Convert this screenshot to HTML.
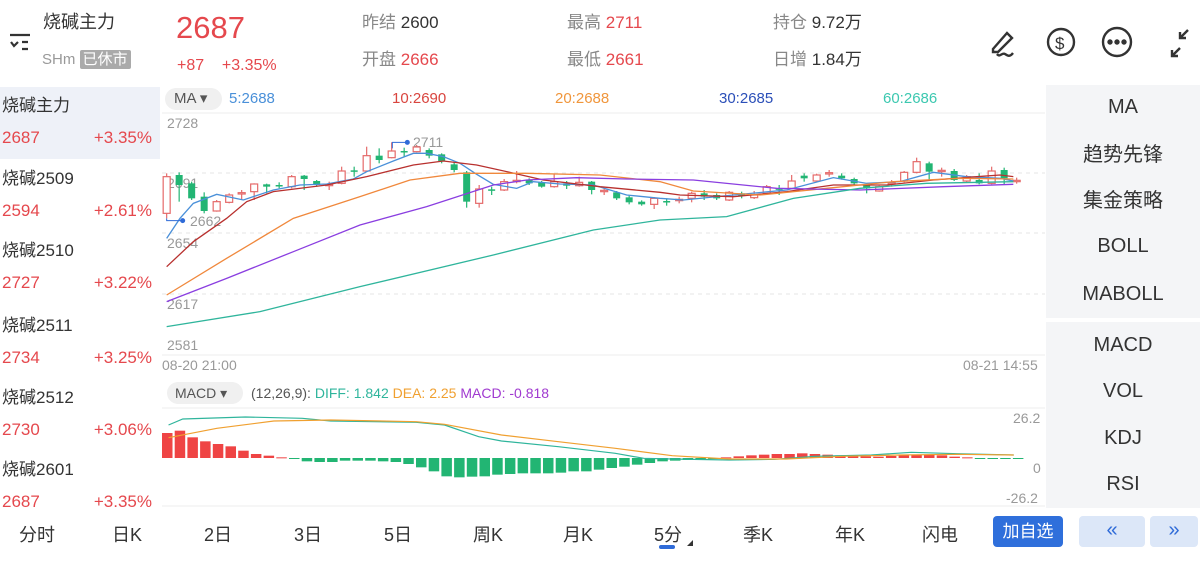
<!DOCTYPE html>
<html><head><meta charset="utf-8"><style>
body{margin:0;width:1200px;height:569px;background:#fff;position:relative;overflow:hidden;font-family:"Liberation Sans","Noto Sans CJK SC",sans-serif;}
.a{position:absolute;white-space:nowrap;line-height:1;}
.r{color:#e5484d}.g{color:#777}.k{color:#333}.b{color:#2f6bd8}
.li{position:absolute;left:0;width:160px;height:72px;}
.li .n{position:absolute;left:2px;top:4px;font-size:17px;color:#333}
.li .v{position:absolute;left:2px;top:41px;font-size:17px;color:#e5484d}
.li .p{position:absolute;right:8px;top:41px;font-size:17px;color:#e5484d}
.rp{position:absolute;left:1046px;width:154px;background:#f4f5f7}
.ri{position:absolute;width:154px;text-align:center;font-size:20px;color:#333}
.tb{position:absolute;top:521px;font-size:18px;color:#333;transform:translateX(-50%)}
</style></head><body>
<svg class="a" style="left:8px;top:32px" width="26" height="22"><path d="M2 3h20M14 10h6M14 17h6M3 10l3 4 4-4" stroke="#333" stroke-width="2.2" fill="none"/></svg>
<div class="a k" style="left:43px;top:13px;font-size:18px">烧碱主力</div>
<div class="a g" style="left:42px;top:52px;font-size:15px;color:#999">SHm <span style="background:#aaa;color:#fff;padding:1px 3px;border-radius:2px">已休市</span></div>
<div class="a r" style="left:176px;top:12px;font-size:31px">2687</div>
<div class="a r" style="left:177px;top:58px;font-size:16px">+87&nbsp;&nbsp;&nbsp;&nbsp;+3.35%</div>
<div class="a" style="left:362px;top:14px;font-size:17px;color:#888">昨结 <span class="k">2600</span></div>
<div class="a" style="left:362px;top:51px;font-size:17px;color:#888">开盘 <span class="r">2666</span></div>
<div class="a" style="left:567px;top:14px;font-size:17px;color:#888">最高 <span class="r">2711</span></div>
<div class="a" style="left:567px;top:51px;font-size:17px;color:#888">最低 <span class="r">2661</span></div>
<div class="a" style="left:773px;top:14px;font-size:17px;color:#888">持仓 <span class="k">9.72万</span></div>
<div class="a" style="left:773px;top:51px;font-size:17px;color:#888">日增 <span class="k">1.84万</span></div>
<svg class="a" style="left:985px;top:22px" width="215" height="40" fill="none" stroke="#333" stroke-width="2.4">
<path d="M8 27l14-16 5 5-14 14H8zM12 32c3 4 5-2 8 0s5 3 8-1"/>
<circle cx="76" cy="20" r="13"/><text x="70" y="27" font-size="17" fill="#333" stroke="none" font-family="Liberation Sans">$</text>
<circle cx="132" cy="20" r="14"/><circle cx="125" cy="20" r="1.5" fill="#333"/><circle cx="132" cy="20" r="1.5" fill="#333"/><circle cx="139" cy="20" r="1.5" fill="#333"/>
<path d="M187 34l8-8M187 28v6h6M203 8l-8 8M195 10v6h6"/>
</svg>
<div class="li" style="top:87px;background:#eef1f8"><div class="n">烧碱主力</div><div class="v">2687</div><div class="p">+3.35%</div></div>
<div class="li" style="top:160px"><div class="n">烧碱2509</div><div class="v">2594</div><div class="p">+2.61%</div></div>
<div class="li" style="top:232px"><div class="n">烧碱2510</div><div class="v">2727</div><div class="p">+3.22%</div></div>
<div class="li" style="top:307px"><div class="n">烧碱2511</div><div class="v">2734</div><div class="p">+3.25%</div></div>
<div class="li" style="top:379px"><div class="n">烧碱2512</div><div class="v">2730</div><div class="p">+3.06%</div></div>
<div class="li" style="top:451px"><div class="n">烧碱2601</div><div class="v">2687</div><div class="p">+3.35%</div></div>
<div class="rp" style="top:85px;height:233px"></div>
<div class="rp" style="top:322px;height:186px"></div>
<div class="ri b" style="left:1046px;top:96px">MA</div>
<div class="ri" style="left:1046px;top:138px">趋势先锋</div>
<div class="ri" style="left:1046px;top:184px">集金策略</div>
<div class="ri" style="left:1046px;top:235px">BOLL</div>
<div class="ri" style="left:1046px;top:283px">MABOLL</div>
<div class="ri b" style="left:1046px;top:334px">MACD</div>
<div class="ri" style="left:1046px;top:380px">VOL</div>
<div class="ri" style="left:1046px;top:427px">KDJ</div>
<div class="ri" style="left:1046px;top:473px">RSI</div>
<div class="a" style="left:165px;top:88px;width:57px;height:22px;border-radius:11px;background:#f0f0f0"></div>
<div class="a" style="left:174px;top:91px;font-size:15px;color:#555">MA ▾</div>
<div class="a" style="left:229px;top:91px;font-size:15px;color:#4a90d9">5:2688</div>
<div class="a" style="left:392px;top:91px;font-size:15px;color:#d9453f">10:2690</div>
<div class="a" style="left:555px;top:91px;font-size:15px;color:#f0963c">20:2688</div>
<div class="a" style="left:719px;top:91px;font-size:15px;color:#2b4fb8">30:2685</div>
<div class="a" style="left:883px;top:91px;font-size:15px;color:#3cc8b0">60:2686</div>
<div class="a" style="left:167px;top:116px;font-size:14px;color:#999">2728</div>
<div class="a" style="left:167px;top:176px;font-size:14px;color:#999">2691</div>
<div class="a" style="left:167px;top:236px;font-size:14px;color:#999">2654</div>
<div class="a" style="left:167px;top:297px;font-size:14px;color:#999">2617</div>
<div class="a" style="left:167px;top:338px;font-size:14px;color:#999">2581</div>
<div class="a" style="left:413px;top:135px;font-size:14px;color:#999">2711</div>
<div class="a" style="left:190px;top:214px;font-size:14px;color:#999">2662</div>
<div class="a" style="left:162px;top:358px;font-size:14px;color:#999">08-20 21:00</div>
<div class="a" style="left:963px;top:358px;font-size:14px;color:#999">08-21 14:55</div>
<div class="a" style="left:167px;top:382px;width:76px;height:22px;border-radius:11px;background:#f0f0f0"></div>
<div class="a" style="left:175px;top:386px;font-size:14px;color:#555">MACD ▾</div>
<div class="a" style="left:251px;top:386px;font-size:14px;color:#555">(12,26,9): <span style="color:#2fb59c">DIFF: 1.842</span> <span style="color:#f0a030">DEA: 2.25</span> <span style="color:#a03ad0">MACD: -0.818</span></div>
<div class="a" style="left:1013px;top:411px;font-size:14px;color:#999">26.2</div>
<div class="a" style="left:1033px;top:461px;font-size:14px;color:#999">0</div>
<div class="a" style="left:1006px;top:491px;font-size:14px;color:#999">-26.2</div>
<svg id="ch" class="a" style="left:0;top:0" width="1200" height="569"></svg>
<div class="tb" style="left:37px">分时</div><div class="tb" style="left:127px">日K</div><div class="tb" style="left:218px">2日</div><div class="tb" style="left:308px">3日</div><div class="tb" style="left:398px">5日</div><div class="tb" style="left:488px">周K</div><div class="tb" style="left:578px">月K</div><div class="tb b" style="left:668px">5分</div><div class="tb" style="left:758px">季K</div><div class="tb" style="left:850px">年K</div><div class="tb" style="left:940px">闪电</div>
<div class="a" style="left:659px;top:545px;width:16px;height:4px;border-radius:2px;background:#2f6bd8"></div>
<div class="a" style="left:687px;top:540px;width:0;height:0;border-left:6px solid transparent;border-bottom:6px solid #333"></div>
<div class="a" style="left:993px;top:516px;width:70px;height:31px;border-radius:4px;background:#2f6fdb;color:#fff;font-size:17px;text-align:center;line-height:31px">加自选</div>
<div class="a" style="left:1079px;top:516px;width:66px;height:31px;border-radius:4px;background:#dce7f8;color:#2f6bd8;font-size:20px;text-align:center;line-height:29px">«</div>
<div class="a" style="left:1150px;top:516px;width:48px;height:31px;border-radius:4px;background:#dce7f8;color:#2f6bd8;font-size:20px;text-align:center;line-height:29px">»</div>
<script>
const S=document.getElementById('ch');let h='';
h+='<line x1="162" y1="113" x2="1045" y2="113" stroke="#eee"/>';
[173,233,294].forEach(y=>h+=`<line x1="162" y1="${y}" x2="1045" y2="${y}" stroke="#e6e6e6" stroke-dasharray="4 4"/>`);
h+='<line x1="162" y1="355" x2="1045" y2="355" stroke="#eee"/><line x1="162" y1="408" x2="1045" y2="408" stroke="#eee"/><line x1="162" y1="506" x2="1045" y2="506" stroke="#eee"/>';
const X=z=>160+z/3,Y=z=>85+z/3;
const C=[[275,385,265,400,'r'],[270,300,262,350,'g'],[295,340,290,345,'g'],[335,378,322,385,'g'],[350,378,345,380,'r'],[330,352,325,355,'r'],[323,327,315,345,'r'],[297,320,295,345,'r'],[298,305,296,325,'g'],[300,304,292,310,'g'],[275,305,270,310,'r'],[272,282,270,315,'g'],[288,300,285,305,'g'],[298,302,290,315,'r'],[258,295,245,298,'r'],[256,260,245,275,'g'],[212,258,185,260,'r'],[212,225,190,235,'g'],[198,218,172,220,'r'],[198,202,188,215,'g'],[186,200,180,202,'r'],[195,212,190,220,'g'],[208,228,205,235,'g'],[238,255,232,262,'g'],[262,350,258,368,'g'],[312,355,300,368,'r'],[313,317,305,330,'g'],[290,315,282,318,'r'],[286,290,258,295,'r'],[285,295,280,300,'g'],[292,305,288,308,'g'],[290,305,268,308,'r'],[295,302,288,312,'g'],[292,302,275,305,'r'],[290,315,288,328,'g'],[316,320,310,330,'r'],[322,340,318,345,'g'],[337,352,332,358,'g'],[350,358,346,362,'g'],[340,358,336,372,'r'],[348,352,340,362,'g'],[343,347,335,355,'r'],[325,340,320,352,'r'],[325,335,315,345,'g'],[330,340,325,345,'g'],[322,345,318,348,'r'],[325,333,320,340,'g'],[330,338,318,342,'r'],[305,325,300,328,'r'],[310,314,300,330,'g'],[288,310,270,312,'r'],[272,280,265,290,'g'],[270,288,266,290,'r'],[263,267,255,275,'r'],[272,280,265,284,'g'],[282,295,278,302,'g'],[300,310,296,325,'g'],[305,318,302,320,'r'],[293,297,285,305,'r'],[262,288,258,292,'r'],[230,262,218,265,'r'],[235,260,230,285,'g'],[256,260,248,275,'r'],[258,285,252,288,'g'],[275,288,270,292,'r'],[285,295,265,298,'g'],[258,295,245,298,'r'],[255,280,248,300,'g'],[286,290,278,296,'r']];
C.forEach((c,i)=>{const x=X(20+37.5*i),col=c[4]=='r'?'#e56a6a':'#22b573';
h+=`<line x1="${x}" y1="${Y(c[2])}" x2="${x}" y2="${Y(c[3])}" stroke="${col}" stroke-width="1.2"/>`;
const t=Y(c[0]),b=Y(c[1]);
if(c[4]=='r')h+=`<rect x="${x-3.5}" y="${t}" width="7" height="${Math.max(b-t,1)}" fill="#fff" stroke="${col}" stroke-width="1.2"/>`;
else h+=`<rect x="${x-3.5}" y="${t}" width="7" height="${Math.max(b-t,1.5)}" fill="${col}"/>`;});
const L=(pts,col)=>{h+=`<polyline fill="none" stroke="${col}" stroke-width="1.3" points="${pts.map(p=>X(p[0])+','+Y(p[1])).join(' ')}"/>`};
L([[20,460],[60,400],[100,355],[170,328],[250,345],[340,315],[420,300],[500,297],[580,282],[620,260],[700,228],[760,205],[800,205],[850,215],[900,235],[950,268],[1000,298],[1070,310],[1120,290],[1200,297],[1300,300],[1400,330],[1500,340],[1570,345],[1720,330],[1880,315],[2020,278],[2120,295],[2220,290],[2320,262],[2420,275],[2520,280],[2560,288]],'#4a90d9');
L([[20,545],[100,470],[200,400],[260,350],[340,320],[500,300],[620,275],[760,240],[850,228],[950,240],[1050,262],[1150,285],[1320,305],[1500,322],[1560,330],[1720,335],[1880,320],[2020,300],[2180,300],[2320,285],[2450,275],[2520,270],[2560,275]],'#b8302e');
L([[20,630],[200,520],[400,400],[600,335],[750,285],[900,265],[1100,265],[1320,270],[1500,290],[1600,318],[1800,330],[2000,310],[2200,290],[2400,280],[2560,282]],'#f0883c');
L([[20,650],[200,580],[400,500],[600,420],[800,365],[1000,300],[1100,285],[1250,278],[1400,282],[1600,285],[1850,310],[2100,315],[2350,305],[2560,298]],'#8a3ee0');
L([[20,725],[300,680],[600,605],[1000,510],[1300,435],[1500,405],[1700,395],[1900,340],[2100,310],[2300,295],[2560,290]],'#2fb59c');
h+=`<polyline fill="none" stroke="#2f6bd8" stroke-width="1" points="${X(20)},${Y(400)} ${X(20)},${Y(407)} ${X(68)},${Y(407)}"/><circle cx="${X(68)}" cy="${Y(407)}" r="2.5" fill="#2f6bd8"/>`;
h+=`<polyline fill="none" stroke="#2f6bd8" stroke-width="1" points="${X(697)},${Y(190)} ${X(697)},${Y(172)} ${X(742)},${Y(172)}"/><circle cx="${X(742)}" cy="${Y(172)}" r="2.5" fill="#2f6bd8"/>`;
const V=[75,82,62,50,42,35,22,12,7,2,-1,-10,-12,-12,-8,-8,-8,-10,-12,-18,-28,-40,-55,-58,-56,-55,-50,-48,-46,-46,-46,-44,-40,-40,-35,-30,-26,-20,-15,-10,-8,-6,-4,-2,2,5,8,10,12,12,14,12,10,8,6,5,4,6,8,10,10,8,4,2,-2,-3,-1,-3];
const z0=458;
V.forEach((v,i)=>{const x=162+i*12.7,hh=Math.abs(v)/3;
h+=`<rect x="${x}" y="${v>0?z0-hh:z0}" width="10.5" height="${Math.max(hh,1)}" fill="${v>0?'#ef4444':'#22b573'}"/>`;});
const MX=z=>160+z/1.757,MY=z=>375+z/3;
const M=(pts,col)=>{h+=`<polyline fill="none" stroke="${col}" stroke-width="1.2" points="${pts.map(p=>MX(p[0])+','+MY(p[1])).join(' ')}"/>`};
M([[15,150],[40,132],[150,126],[250,130],[300,138],[450,142],[500,150],[560,185],[600,198],[700,215],[800,235],[850,250],[900,252],[1000,255],[1080,253],[1150,244],[1250,240],[1320,232],[1400,236],[1500,240]],'#2fb59c');
M([[15,188],[100,160],[200,138],[300,135],[450,140],[500,148],[600,180],[700,200],[800,220],[900,242],[1000,252],[1100,252],[1200,244],[1300,240],[1400,238],[1500,240]],'#f0a030');
S.innerHTML=h;
</script>
</body></html>
